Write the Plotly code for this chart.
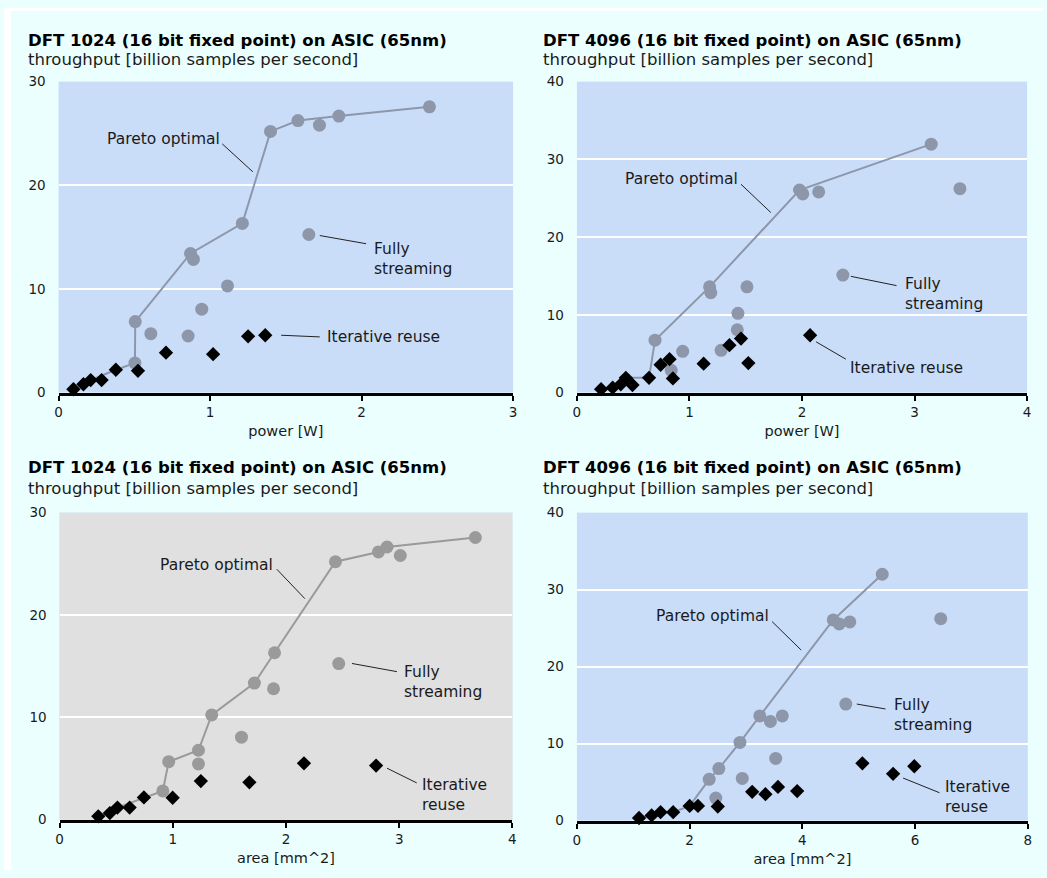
import plotly.graph_objects as go

W, H = 1047, 878

# ---------------- data ----------------
# Panel 1: DFT 1024, power [W]
p1_stream_x = [0.504, 0.506, 0.609, 0.855, 0.871, 0.890, 0.945, 1.115, 1.213, 1.399, 1.580, 1.652, 1.722, 1.850, 2.448]
p1_stream_y = [2.84, 6.85, 5.68, 5.46, 13.42, 12.85, 8.05, 10.29, 16.32, 25.2, 26.24, 15.25, 25.8, 26.68, 27.57]
p1_reuse_x = [0.098, 0.164, 0.212, 0.284, 0.378, 0.524, 0.709, 1.02, 1.251, 1.364]
p1_reuse_y = [0.32, 0.8, 1.2, 1.2, 2.2, 2.1, 3.85, 3.7, 5.43, 5.53]
p1_pareto_x = [0.098, 0.164, 0.212, 0.378, 0.504, 0.506, 0.871, 1.213, 1.399, 1.580, 1.850, 2.448]
p1_pareto_y = [0.32, 0.8, 1.2, 2.2, 2.84, 6.85, 13.42, 16.32, 25.2, 26.24, 26.68, 27.57]

# Panel 2: DFT 4096, power [W]
p2_stream_x = [0.694, 0.838, 0.940, 1.179, 1.190, 1.281, 1.425, 1.431, 1.511, 1.978, 2.007, 2.148, 2.363, 3.148, 3.403]
p2_stream_y = [6.74, 2.86, 5.3, 13.6, 12.84, 5.43, 8.08, 10.19, 13.6, 26.06, 25.56, 25.81, 15.12, 31.96, 26.23]
p2_reuse_x = [0.215, 0.318, 0.39, 0.435, 0.494, 0.641, 0.744, 0.823, 0.853, 1.126, 1.355, 1.458, 1.523, 2.072]
p2_reuse_y = [0.43, 0.63, 1.06, 1.9, 0.97, 1.9, 3.58, 4.3, 1.82, 3.71, 6.1, 6.94, 3.79, 7.37]
p2_pareto_x = [0.215, 0.318, 0.435, 0.641, 0.694, 1.179, 1.978, 3.148]
p2_pareto_y = [0.43, 0.63, 1.9, 1.9, 6.74, 13.6, 26.06, 31.96]

# Panel 3: DFT 1024, area [mm^2]
p3_stream_x = [0.912, 0.964, 1.227, 1.227, 1.344, 1.607, 1.721, 1.890, 1.899, 2.437, 2.466, 2.817, 2.893, 3.010, 3.673]
p3_stream_y = [2.81, 5.66, 6.78, 5.44, 10.23, 8.06, 13.34, 12.79, 16.31, 25.2, 15.25, 26.16, 26.64, 25.81, 27.57]
p3_reuse_x = [0.342, 0.444, 0.511, 0.619, 0.745, 0.999, 1.248, 1.677, 2.159, 2.796]
p3_reuse_y = [0.32, 0.64, 1.18, 1.18, 2.17, 2.14, 3.77, 3.65, 5.5, 5.28]
p3_pareto_x = [0.342, 0.444, 0.511, 0.745, 0.912, 0.964, 1.227, 1.344, 1.721, 1.899, 2.437, 2.817, 2.893, 3.673]
p3_pareto_y = [0.32, 0.64, 1.18, 2.17, 2.81, 5.66, 6.78, 10.23, 13.34, 16.31, 25.2, 26.16, 26.64, 27.57]

# Panel 4: DFT 4096, area [mm^2]
p4_stream_x = [2.347, 2.465, 2.518, 2.893, 2.934, 3.245, 3.433, 3.527, 3.644, 4.548, 4.654, 4.771, 4.842, 5.417, 6.455]
p4_stream_y = [5.36, 2.93, 6.76, 10.16, 5.48, 13.6, 12.88, 8.08, 13.6, 26.06, 25.55, 15.13, 25.8, 32.0, 26.23]
p4_reuse_x = [1.103, 1.326, 1.485, 1.708, 2.001, 2.148, 2.5, 3.110, 3.345, 3.568, 3.908, 5.065, 5.610, 5.986]
p4_reuse_y = [0.34, 0.68, 1.1, 1.1, 1.91, 1.91, 1.83, 3.74, 3.44, 4.38, 3.83, 7.44, 6.08, 7.06]
p4_pareto_x = [1.103, 1.326, 1.485, 1.708, 2.001, 2.347, 2.518, 2.893, 3.245, 4.548, 5.417]
p4_pareto_y = [0.34, 0.68, 1.1, 1.1, 1.91, 5.36, 6.76, 10.16, 13.6, 26.06, 32.0]

titles = ["DFT 1024 (16 bit fixed point) on ASIC (65nm)",
          "DFT 4096 (16 bit fixed point) on ASIC (65nm)",
          "DFT 1024 (16 bit fixed point) on ASIC (65nm)",
          "DFT 4096 (16 bit fixed point) on ASIC (65nm)"]
subtitle = "throughput [billion samples per second]"
x_titles = ["power [W]", "power [W]", "area [mm^2]", "area [mm^2]"]
x_ranges = [[0, 3], [0, 4], [0, 4], [0, 8]]
x_dticks = [1, 1, 1, 2]
y_ranges = [[0, 30], [0, 40], [0, 30], [0, 40]]
y_dticks = [10, 10, 10, 10]
label_pareto = "Pareto optimal"
label_stream = "Fully<br>streaming"
label_reuse = "Iterative reuse"
label_reuse_2line = "Iterative<br>reuse"

# ---------------- style ----------------
FONT = "Verdana, DejaVu Sans, sans-serif"
PAGE_BG = "#ebfffe"
BLUE_BG = "#c9ddf9"
GRAY_BG = "#e0e0e0"
CIRCLE_BLUE = "#8d97a9"
CIRCLE_GRAY = "#9a9a9a"
TEXT = "#1a1a1a"

# pixel layout of plot areas: (left, right, top, bottom)
boxes = [(55, 513, 75, 391.7), (577.3, 1031, 75, 391.7),
         (56, 512.3, 514, 826.7), (577.3, 1031.7, 514, 827.7)]
title_pos = [(22, 33, 52), (541, 33, 52), (22, 468, 489), (541, 468, 489)]

panels = [
    (p1_stream_x, p1_stream_y, p1_reuse_x, p1_reuse_y, p1_pareto_x, p1_pareto_y),
    (p2_stream_x, p2_stream_y, p2_reuse_x, p2_reuse_y, p2_pareto_x, p2_pareto_y),
    (p3_stream_x, p3_stream_y, p3_reuse_x, p3_reuse_y, p3_pareto_x, p3_pareto_y),
    (p4_stream_x, p4_stream_y, p4_reuse_x, p4_reuse_y, p4_pareto_x, p4_pareto_y),
]

ann = [
    dict(pt=(1.08, 24.5), pl=(1.08, 24.0, 1.282, 21.3),
         st=(2.07, 12.85), sl=(1.724, 15.15, 2.03, 14.36),
         rt=(1.757, 5.37), rl=(1.469, 5.53, 1.724, 5.37), rtext=label_reuse),
    dict(pt=(1.452, 27.45), pl=(1.458, 26.8, 1.723, 23.16),
         st=(2.9, 12.69), sl=(2.434, 14.95, 2.84, 13.76),
         rt=(2.408, 3.16), rl=(2.125, 6.53, 2.39, 4.29), rtext=label_reuse),
    dict(pt=(1.9, 24.86), pl=(1.919, 24.47, 2.167, 21.59),
         st=(3.025, 13.41), sl=(2.583, 15.26, 2.98, 14.46),
         rt=(3.185, 2.4), rl=(2.892, 5.03, 3.155, 3.59), rtext=label_reuse_2line),
    dict(pt=(3.44, 26.62), pl=(3.463, 25.85, 3.979, 22.15),
         st=(5.595, 13.7), sl=(4.965, 15.14, 5.475, 14.5),
         rt=(6.493, 3.11), rl=(5.787, 5.53, 6.433, 3.62), rtext=label_reuse_2line),
]

fig = go.Figure()
annotations = []
shapes = []

shapes.append(dict(type="rect", xref="paper", yref="paper", x0=0, x1=7 / W, y0=0, y1=1,
                   fillcolor="white", line=dict(width=0), layer="below"))
shapes.append(dict(type="rect", xref="paper", yref="paper", x0=0, x1=1, y0=1 - 3 / H, y1=1,
                   fillcolor="white", line=dict(width=0), layer="below"))

for i, (sx, sy, rx, ry, px, py) in enumerate(panels):
    n = "" if i == 0 else str(i + 1)
    xa, ya = "x" + n, "y" + n
    ccol = CIRCLE_GRAY if i == 2 else CIRCLE_BLUE
    fig.add_trace(go.Scatter(x=px, y=py, mode="lines", line=dict(color=ccol, width=2),
                             xaxis=xa, yaxis=ya, showlegend=False, hoverinfo="skip",
                             cliponaxis=False))
    fig.add_trace(go.Scatter(x=sx, y=sy, mode="markers",
                             marker=dict(symbol="circle", size=13, color=ccol),
                             xaxis=xa, yaxis=ya, showlegend=False, name="Fully streaming",
                             cliponaxis=False))
    fig.add_trace(go.Scatter(x=rx, y=ry, mode="markers",
                             marker=dict(symbol="diamond", size=11, color="black"),
                             xaxis=xa, yaxis=ya, showlegend=False, name="Iterative reuse",
                             cliponaxis=False))

    l, r, t, b = boxes[i]
    xdom = [l / W, r / W]
    ydom = [1 - b / H, 1 - t / H]
    fig.update_layout(**{
        ("xaxis" + n): dict(domain=xdom, anchor=ya, range=x_ranges[i], dtick=x_dticks[i],
                            showgrid=False, zeroline=False, showline=True,
                            linecolor="black", linewidth=3, ticks="outside", ticklen=5,
                            tickwidth=2, tickcolor="black",
                            tickfont=dict(family=FONT, size=13.5, color=TEXT),
                            title=dict(text=x_titles[i], font=dict(family=FONT, size=14.5, color=TEXT),
                                       standoff=8)),
        ("yaxis" + n): dict(domain=ydom, anchor=xa, range=y_ranges[i], dtick=y_dticks[i],
                            showgrid=True, gridcolor="white", gridwidth=2, zeroline=False,
                            showline=False, ticks="", ticklabelstandoff=12,
                            tickfont=dict(family=FONT, size=13.5, color=TEXT)),
    })

    if i == 2:
        shapes.append(dict(type="rect", xref="x3 domain", yref="y3 domain", x0=0, x1=1, y0=0, y1=1,
                           fillcolor=GRAY_BG, line=dict(width=0), layer="below"))

    tx, ty1, ty2 = title_pos[i]
    annotations.append(dict(xref="paper", yref="paper", x=tx / W, y=1 - ty1 / H,
                            xanchor="left", yanchor="middle", showarrow=False,
                            text="<b>" + titles[i] + "</b>",
                            font=dict(family=FONT, size=16.5, color="black")))
    annotations.append(dict(xref="paper", yref="paper", x=tx / W, y=1 - ty2 / H,
                            xanchor="left", yanchor="middle", showarrow=False,
                            text=subtitle, font=dict(family=FONT, size=16.5, color=TEXT)))

    a = ann[i]
    afont = dict(family=FONT, size=15.5, color=TEXT)
    annotations.append(dict(xref=xa, yref=ya, x=a["pt"][0], y=a["pt"][1], xanchor="right",
                            yanchor="middle", showarrow=False, text=label_pareto, font=afont))
    annotations.append(dict(xref=xa, yref=ya, x=a["st"][0], y=a["st"][1], xanchor="left",
                            yanchor="middle", align="left", showarrow=False, text=label_stream,
                            font=afont))
    annotations.append(dict(xref=xa, yref=ya, x=a["rt"][0], y=a["rt"][1], xanchor="left",
                            yanchor="middle", align="left", showarrow=False, text=a["rtext"],
                            font=afont))
    for key in ("pl", "sl", "rl"):
        x0, y0, x1, y1 = a[key]
        shapes.append(dict(type="line", xref=xa, yref=ya, x0=x0, y0=y0, x1=x1, y1=y1,
                           line=dict(color="#222222", width=1)))

fig.update_layout(width=W, height=H, margin=dict(l=0, r=0, t=0, b=0),
                  paper_bgcolor=PAGE_BG, plot_bgcolor=BLUE_BG,
                  font=dict(family=FONT, color=TEXT),
                  annotations=annotations, shapes=shapes, showlegend=False)

fig.write_html("out.html", config=dict(displayModeBar=False),
               post_script="document.body.style.margin='0';document.body.style.padding='0';"
                           "document.body.style.overflow='hidden';"
                           "document.documentElement.style.overflow='hidden';")
